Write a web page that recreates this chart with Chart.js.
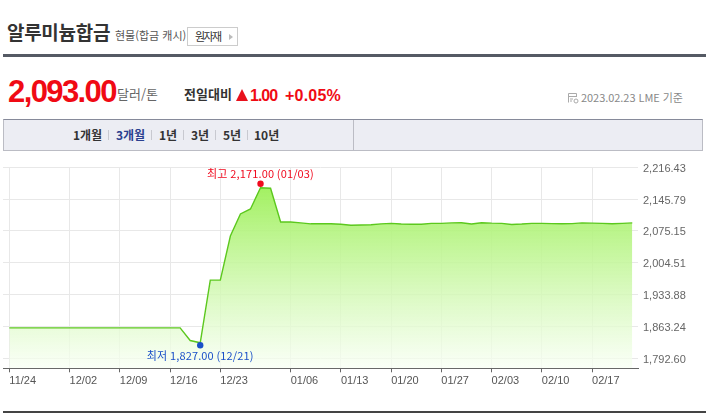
<!DOCTYPE html>
<html lang="ko">
<head>
  <meta charset="UTF-8">
  <title>알루미늄합금</title>
  <style>
    html, body { margin: 0; padding: 0; background: #fff; }
    body { position: relative; width: 706px; height: 415px; overflow: hidden; font-family: "Noto Sans CJK KR", "Liberation Sans", sans-serif; }
    .abs { position: absolute; white-space: nowrap; line-height: 1; }
    #title { left: 7px; top: 22px; font-size: 19px; font-weight: 700; color: #333; letter-spacing: -0.3px; }
    #sub { left: 115px; top: 30px; font-size: 11px; color: #555; }
    #btn { left: 187px; top: 27px; width: 49px; height: 17px; border: 1px solid #ccc; font-size: 11px; color: #333; line-height: 17px; }
    #btn span { position: absolute; left: 7px; top: 0; letter-spacing: -1.6px; }
    #btn i { position: absolute; left: 41px; top: 6px; border-left: 4px solid #bbb; border-top: 3px solid transparent; border-bottom: 3px solid transparent; }
    #rule1 { position: absolute; left: 3px; top: 54px; width: 703px; height: 3px; background: #555a64; }
    #price { left: 8px; top: 74px; font: 700 31px "Liberation Sans", sans-serif; color: #f00a14; letter-spacing: -1.6px; }
    #unit { left: 117px; top: 87px; font-size: 13px; color: #666; }
    #cmp { left: 184px; top: 87px; font-size: 13px; font-weight: 700; color: #333; }
    #tri { position: absolute; left: 236px; top: 89px; border-left: 6.5px solid transparent; border-right: 6.5px solid transparent; border-bottom: 12px solid #e8111c; }
    #chg { left: 250px; top: 87px; font: 700 16px "Liberation Sans", sans-serif; color: #f00a14; letter-spacing: -1px; }
    #pct { left: 285px; top: 87px; font: 700 16px "Liberation Sans", sans-serif; color: #f00a14; letter-spacing: 0.2px; }
    #icon { position: absolute; left: 567px; top: 92px; }
    #stamp { left: 581px; top: 92px; font-size: 11px; color: #888; letter-spacing: -0.05px; }
    #tabs { position: absolute; left: 3px; top: 119px; width: 698px; height: 30px; background: #ecedf3; border: 1px solid #bbbcc4; border-top-color: #868a9a; }
    #tabdiv { position: absolute; left: 349px; top: 0; width: 1px; height: 30px; background: #bbbcc4; }
    .tab { top: 129px; font-size: 12px; font-weight: 700; color: #333; }
    .sep { position: absolute; top: 130px; width: 1px; height: 10px; background: #c8c9d0; }
    #chartBox { position: absolute; left: 0; top: 160px; width: 706px; height: 240px; }
    #rule2 { position: absolute; left: 3px; top: 411px; width: 703px; height: 2px; background: #444; }
  </style>
</head>
<body>
  <div class="abs" id="title">알루미늄합금</div>
  <div class="abs" id="sub">현물(합금 캐시)</div>
  <div class="abs" id="btn"><span>원자재</span><i></i></div>
  <div id="rule1"></div>
  <div class="abs" id="price">2,093.00</div>
  <div class="abs" id="unit">달러/톤</div>
  <div class="abs" id="cmp">전일대비</div>
  <div id="tri"></div>
  <div class="abs" id="chg">1.00</div>
  <div class="abs" id="pct">+0.05%</div>
  <svg id="icon" width="12" height="12" fill="none" stroke="#aaa"><path d="M1.5 10.5V1.5H9.5V5M1.5 4.5H9.5M3 7H6M3 9H5"/><circle cx="9" cy="9" r="2"/></svg>
  <div class="abs" id="stamp">2023.02.23 LME 기준</div>
  <div id="tabs"><div id="tabdiv"></div></div>
  <div class="abs tab" style="left:73px">1개월</div>
  <div class="sep" style="left:108px"></div>
  <div class="abs tab" style="left:116px;color:#2a3f8f">3개월</div>
  <div class="sep" style="left:151px"></div>
  <div class="abs tab" style="left:159px">1년</div>
  <div class="sep" style="left:183px"></div>
  <div class="abs tab" style="left:191px">3년</div>
  <div class="sep" style="left:215px"></div>
  <div class="abs tab" style="left:223px">5년</div>
  <div class="sep" style="left:247px"></div>
  <div class="abs tab" style="left:254px">10년</div>
  <div id="chartBox"><canvas id="metalChart" width="706" height="240"></canvas></div>
  <div id="rule2"></div>

  <script src="https://cdn.jsdelivr.net/npm/chart.js"></script>
  <script>
    const dates = [
      '11/24','11/25','11/28','11/29','11/30','12/01','12/02',
      '12/05','12/06','12/07','12/08','12/09',
      '12/12','12/13','12/14','12/15','12/16',
      '12/19','12/20','12/21','12/22','12/23',
      '12/28','12/29','12/30','01/03','01/04','01/05','01/06',
      '01/09','01/10','01/11','01/12','01/13',
      '01/16','01/17','01/18','01/19','01/20',
      '01/23','01/24','01/25','01/26','01/27',
      '01/30','01/31','02/01','02/02','02/03',
      '02/06','02/07','02/08','02/09','02/10',
      '02/13','02/14','02/15','02/16','02/17',
      '02/20','02/21','02/22','02/23'
    ];
    const prices = [
      1860,1860,1860,1860,1860,1860,1860,
      1860,1860,1860,1860,1860,
      1860,1860,1860,1860,1860,
      1860,1832,1827,1966,1966,
      2064,2113,2124,2171,2170,2095,2095,
      2093,2091,2091,2091,2090,
      2088,2088.5,2089,2091,2092,
      2090.5,2090,2090,2092,2092,
      2093,2093.5,2090.5,2093.5,2092.5,
      2092,2089.5,2090.5,2092,2092,
      2091.5,2091,2091.5,2093,2092.5,
      2092,2091,2092,2093
    ];
    const xTickDates = ['11/24','12/02','12/09','12/16','12/23','01/06','01/13','01/20','01/27','02/03','02/10','02/17'];
    const yTicks = [1792.60, 1863.24, 1933.88, 2004.51, 2075.15, 2145.79, 2216.43];
    const highDate = '01/03';
    const highValue = 2171;
    const lowDate = '12/21';
    const lowValue = 1827;

    const money = v => v.toLocaleString('en-US', { minimumFractionDigits: 2, maximumFractionDigits: 2 });

    // 최고/최저 표시: the site draws the dots a little off the line
    const extremes = {
      id: 'extremes',
      beforeDraw(chart) {
        // y labels sit a bit under their grid line
        chart.scales.y.getLabelItems().forEach(item => {
          if (!item.nudged) { item.options.translation[1] += 1.5; item.nudged = true; }
        });
      },
      afterDatasetsDraw(chart) {
        const { ctx, scales: { x, y } } = chart;
        const mark = (date, value, color, word, dotShift, textShift) => {
          const px = x.getPixelForValue(dates.indexOf(date));
          const py = y.getPixelForValue(value);
          ctx.save();
          ctx.fillStyle = color;
          ctx.beginPath();
          ctx.arc(px, py + dotShift, 3.2, 0, Math.PI * 2);
          ctx.fill();
          ctx.font = '11px "Noto Sans CJK KR", sans-serif';
          ctx.letterSpacing = '0.15px';
          ctx.textAlign = 'center';
          ctx.textBaseline = 'middle';
          ctx.fillText(word + ' ' + money(value) + ' (' + date + ')', px, py + textShift);
          ctx.restore();
        };
        mark(highDate, highValue, '#f00a1e', '최고', -4, -14);
        mark(lowDate, lowValue, '#1a50c8', '최저', 2.5, 13.5);
      }
    };

    new Chart(document.getElementById('metalChart'), {
      type: 'line',
      data: {
        datasets: [{
          data: prices.map((p, i) => ({ x: i, y: p })),
          borderColor: '#5cc81e',
          borderWidth: 1.4,
          pointRadius: 0,
          tension: 0,
          fill: 'start',
          backgroundColor(c) {
            const area = c.chart.chartArea;
            if (!area) return '#b8f888';
            const g = c.chart.ctx.createLinearGradient(0, 188 - 160, 0, area.bottom);
            g.addColorStop(0, 'rgba(158,240,90,0.95)');
            g.addColorStop(1, 'rgba(248,255,244,0.75)');
            return g;
          }
        }]
      },
      options: {
        responsive: false,
        animation: false,
        events: [],
        layout: { padding: { left: 3, top: 7.3, right: 0, bottom: 0 } },
        plugins: { legend: { display: false }, tooltip: { enabled: false } },
        scales: {
          x: {
            type: 'linear',
            min: -0.63,
            max: 62.57,
            afterBuildTicks(s) { s.ticks = xTickDates.map(d => ({ value: dates.indexOf(d) })); },
            afterFit(s) { s.height = 31.7; s.paddingLeft = 0; s.paddingRight = 0; },
            grid: { color: '#e8e8e8', tickColor: '#666', tickLength: 4 },
            border: { color: '#666' },
            ticks: {
              autoSkip: false, maxRotation: 0, align: 'start', padding: 2,
              color: '#555', font: { family: '"Liberation Sans", sans-serif', size: 11 },
              callback: v => dates[v]
            }
          },
          y: {
            position: 'right',
            min: 1770.4,
            max: 2216.43,
            afterBuildTicks(s) { s.ticks = yTicks.map(v => ({ value: v })); },
            afterFit(s) { s.width = 68; s.paddingTop = 0; s.paddingBottom = 0; },
            grid: { color: '#e8e8e8', tickLength: 0 },
            border: { display: false },
            ticks: {
              padding: 5,
              color: '#666', font: { family: '"Liberation Sans", sans-serif', size: 11 },
              callback: v => money(v)
            }
          }
        }
      },
      plugins: [extremes]
    });
  </script>
</body>
</html>
